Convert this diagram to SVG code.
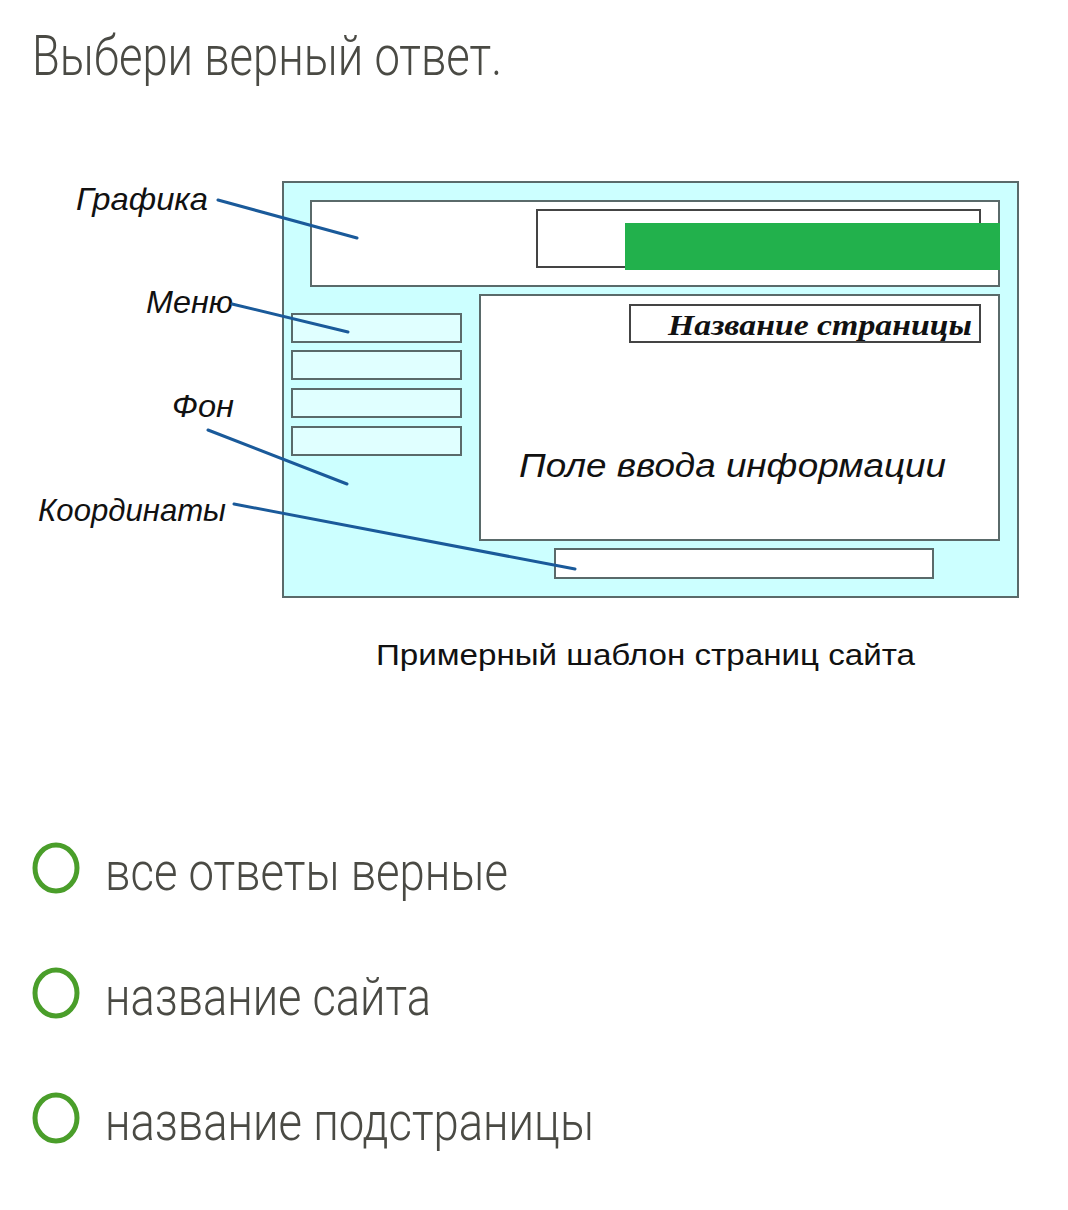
<svg xmlns="http://www.w3.org/2000/svg" width="1068" height="1210" viewBox="0 0 1068 1210">
<style>
.q{font-family:Roboto,"Noto Sans",sans-serif;font-weight:300;fill:#4a4a44}
.lbl{font-family:"Liberation Sans",Arial,sans-serif;font-style:italic;font-size:32px;fill:#111}
.box{stroke:#5a6a6a;stroke-width:2}
.ln{stroke:#1a5a9a;stroke-width:3;stroke-linecap:round;fill:none}
.rad{fill:none;stroke:#4a9e2a;stroke-width:5}
</style>
<rect width="1068" height="1210" fill="#fff"/>
<text class="q" x="32" y="75" font-size="56" textLength="470" lengthAdjust="spacingAndGlyphs">Выбери верный ответ.</text>
<g id="page">
<rect class="box" x="283" y="182" width="735" height="415" fill="#ccffff"/>
</g>
<g id="header">
<rect class="box" x="311" y="201" width="688" height="85" fill="#fff"/>
<rect x="537" y="210" width="443" height="57" fill="#fff" stroke="#444" stroke-width="2"/>
<rect x="625" y="223" width="375" height="47" fill="#22b14c"/>
</g>
<g id="menu">
<rect class="box" x="292" y="314" width="169" height="28" fill="#e0ffff"/>
<rect class="box" x="292" y="351" width="169" height="28" fill="#e0ffff"/>
<rect class="box" x="292" y="389" width="169" height="28" fill="#e0ffff"/>
<rect class="box" x="292" y="427" width="169" height="28" fill="#e0ffff"/>
</g>
<g id="content">
<rect class="box" x="480" y="295" width="519" height="245" fill="#fff"/>
<rect x="630" y="305" width="350" height="37" fill="#fff" stroke="#444" stroke-width="2"/>
<text x="668" y="335" font-family="'Liberation Serif','Times New Roman',serif" font-style="italic" font-weight="bold" font-size="30" fill="#111" textLength="304" lengthAdjust="spacingAndGlyphs">Название страницы</text>
<text x="519" y="477" font-family="'Liberation Sans',Arial,sans-serif" font-style="italic" font-size="33" fill="#111" textLength="427" lengthAdjust="spacingAndGlyphs">Поле ввода информации</text>
</g>
<g id="coords">
<rect class="box" x="555" y="549" width="378" height="29" fill="#fff"/>
</g>
<g id="labels">
<text class="lbl" x="76" y="210" textLength="132" lengthAdjust="spacingAndGlyphs">Графика</text>
<text class="lbl" x="146" y="313" textLength="87" lengthAdjust="spacingAndGlyphs">Меню</text>
<text class="lbl" x="172" y="417" textLength="62" lengthAdjust="spacingAndGlyphs">Фон</text>
<text class="lbl" x="38" y="521" textLength="188" lengthAdjust="spacingAndGlyphs">Координаты</text>
</g>
<g id="connectors">
<line class="ln" x1="218" y1="200" x2="357" y2="238"/>
<line class="ln" x1="232" y1="304" x2="348" y2="332"/>
<line class="ln" x1="208" y1="430" x2="347" y2="484"/>
<line class="ln" x1="234" y1="504" x2="575" y2="569"/>
</g>
<text x="376" y="665" font-family="'Liberation Sans',Arial,sans-serif" font-size="30" fill="#111" textLength="539" lengthAdjust="spacingAndGlyphs">Примерный шаблон страниц сайта</text>
<g id="opt1">
<ellipse class="rad" cx="56" cy="868" rx="21" ry="23"/>
<text class="q" x="105" y="890" font-size="54" textLength="403" lengthAdjust="spacingAndGlyphs">все ответы верные</text>
</g>
<g id="opt2">
<ellipse class="rad" cx="56" cy="993" rx="21" ry="23"/>
<text class="q" x="105" y="1015" font-size="54" textLength="326" lengthAdjust="spacingAndGlyphs">название сайта</text>
</g>
<g id="opt3">
<ellipse class="rad" cx="56" cy="1118" rx="21" ry="23"/>
<text class="q" x="105" y="1140" font-size="54" textLength="489" lengthAdjust="spacingAndGlyphs">название подстраницы</text>
</g>
</svg>
